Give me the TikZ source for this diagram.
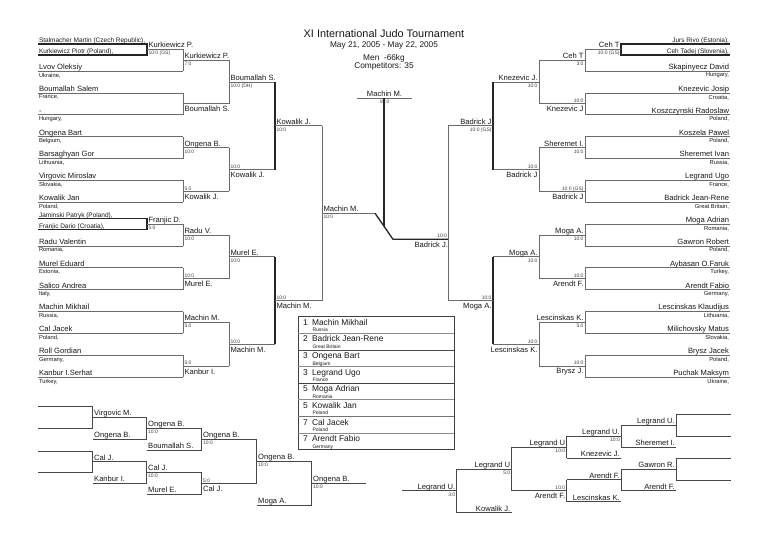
\documentclass[tikz,border=0pt]{standalone}
\usepackage{fontspec}
\setmainfont{Liberation Sans}
\newcommand{\LEnt}[3]{%
  \draw[jln] (38,#1) -- (183,#1);
  \node[jnm,anchor=base west] at (39,#1-1.6) {#2};
  \node[jct,anchor=north west] at (39,#1+1.8) {#3};}
\newcommand{\REnt}[3]{%
  \draw[jln] (585,#1) -- (730,#1);
  \node[jnm,anchor=base east] at (729,#1-1.6) {#2};
  \node[jct,anchor=north east] at (729,#1+1.8) {#3};}
\newcommand{\LWinT}[5]{%
  \draw[jln] (#1,#3) -- (#2,#3);
  \node[jnm,anchor=base west] at (#1+1.5,#3-1.6) {#4};
  \node[jsc,anchor=north west] at (#1+1.5,#3+2) {#5};}
\newcommand{\LWinB}[5]{%
  \draw[jln] (#1,#3) -- (#2,#3);
  \node[jsc,anchor=base west] at (#1+1.5,#3-1.2) {#5};
  \node[jnm,anchor=north west] at (#1+1.5,#3+2.5) {#4};}
\newcommand{\RWinT}[5]{%
  \draw[jln] (#1,#3) -- (#2,#3);
  \node[jnm,anchor=base east] at (#2-1.5,#3-1.6) {#4};
  \node[jsc,anchor=north east] at (#2-1.5,#3+2) {#5};}
\newcommand{\RWinB}[5]{%
  \draw[jln] (#1,#3) -- (#2,#3);
  \node[jsc,anchor=base east] at (#2-1.5,#3-1.2) {#5};
  \node[jnm,anchor=north east] at (#2-1.5,#3+2.5) {#4};}
\newcommand{\VLn}[4][jln]{\draw[#1] (#2,#3) -- (#2,#4);}
\newcommand{\RpL}[4]{\draw[jrp] (#1,#3) -- (#2,#3);
  \node[jnm,anchor=base west] at (#1+1.5,#3-1.6) {#4};}
\newcommand{\RpR}[4]{\draw[jrp] (#1,#3) -- (#2,#3);
  \node[jnm,anchor=base east] at (#2-1.5,#3-1.6) {#4};}
\newcommand{\TRow}[4]{%
  \node[jtx,font=\fontsize{8.4}{10}\selectfont,anchor=base west] at (303,#1+8.6) {#2};
  \node[jtx,font=\fontsize{8.4}{10}\selectfont,anchor=base west] at (312,#1+8.6) {#3};
  \node[jtx,font=\fontsize{5}{6}\selectfont,anchor=base west] at (312.5,#1+15) {#4};}
\begin{document}
\begin{tikzpicture}[x=1pt,y=-1pt,
  jln/.style={draw=black!58,line width=0.9pt},
  jdk/.style={draw=black!85,line width=1.3pt},
  jrp/.style={draw=black!72,line width=1pt},
  jtx/.style={inner sep=0pt,outer sep=0pt,text=black!90},
  jnm/.style={jtx,font=\fontsize{7.6}{9}\selectfont},
  jpr/.style={jtx,font=\fontsize{6.5}{8}\selectfont},
  jct/.style={jtx,font=\fontsize{5.8}{7}\selectfont},
  jsc/.style={jtx,font=\fontsize{5}{6}\selectfont,text=black!75}]
\useasboundingbox (0,0) rectangle (768,543);
\fill[white] (0,0) rectangle (768,543);

% ---------- title ----------
\node[jtx,font=\fontsize{10.9}{12}\selectfont,anchor=base] (title) at (384,37.7) {XI International Judo Tournament};
\node[jtx,font=\fontsize{8.3}{10}\selectfont,anchor=base] (date) at (384,47.7) {May 21, 2005 - May 22, 2005};
\node[jtx,font=\fontsize{8.3}{10}\selectfont,anchor=base] (cat) at (384,60) {Men~~-66kg};
\node[jtx,font=\fontsize{8.3}{10}\selectfont,anchor=base] (comp) at (384,68.3) {Competitors: 35};

% ---------- left half ----------
\draw[jdk] (38,44) -- (147,44) -- (147,55) -- (38,55);
\node[jpr,anchor=base west] at (39,42.6) {Stalmacher Martin (Czech Republic),};
\node[jpr,anchor=base west] at (39,53.6) {Kurkiewicz Piotr (Poland),};
\LWinT{147}{183}{49.3}{Kurkiewicz P.}{10:0 (GS)}
\LEnt{71.15}{Lvov Oleksiy}{Ukraine,}
\LEnt{93}{Boumallah Salem}{France,}
\LEnt{114.85}{-}{Hungary,}
\LEnt{136.7}{Ongena Bart}{Belgium,}
\LEnt{158.55}{Barsaghyan Gor}{Lithuania,}
\LEnt{180.4}{Virgovic Miroslav}{Slovakia,}
\LEnt{202.25}{Kowalik Jan}{Poland,}
\draw[jdk] (38,218.6) -- (147,218.6) -- (147,229.6) -- (38,229.6);
\node[jpr,anchor=base west] at (39,217.2) {Jaminski Patryk (Poland),};
\node[jpr,anchor=base west] at (39,228.2) {Franjic Dario (Croatia),};
\LWinT{147}{183}{224.1}{Franjic D.}{5:0}
\LEnt{245.95}{Radu Valentin}{Romania,}
\LEnt{267.8}{Murel Eduard}{Estonia,}
\LEnt{289.65}{Salico Andrea}{Italy,}
\LEnt{311.5}{Machin Mikhail}{Russia,}
\LEnt{333.35}{Cal Jacek}{Poland,}
\LEnt{355.2}{Roll Gordian}{Germany,}
\LEnt{377.05}{Kanbur I.Serhat}{Turkey,}

\VLn{183}{49.3}{71.15}\VLn{183}{93}{114.85}\VLn{183}{136.7}{158.55}\VLn{183}{180.4}{202.25}
\VLn{183}{224.1}{245.95}\VLn{183}{267.8}{289.65}\VLn{183}{311.5}{333.35}\VLn{183}{355.2}{377.05}
\LWinT{183}{229}{60.2}{Kurkiewicz P.}{7:0}
\LWinB{183}{229}{103.9}{Boumallah S.}{}
\LWinT{183}{229}{147.6}{Ongena B.}{10:0}
\LWinB{183}{229}{191.3}{Kowalik J.}{5:0}
\LWinT{183}{229}{235.0}{Radu V.}{10:0}
\LWinB{183}{229}{278.7}{Murel E.}{10:0}
\LWinT{183}{229}{322.4}{Machin M.}{5:0}
\LWinB{183}{229}{366.1}{Kanbur I.}{5:0}
\VLn{229}{60.2}{103.9}\VLn{229}{147.6}{191.3}\VLn{229}{235.0}{278.7}\VLn{229}{322.4}{366.1}
\LWinT{229}{275}{82.1}{Boumallah S.}{10:0 (DH)}
\LWinB{229}{275}{169.5}{Kowalik J.}{10:0}
\LWinT{229}{275}{256.9}{Murel E.}{10:0}
\LWinB{229}{275}{344.3}{Machin M.}{10:0}
\VLn[jdk]{275}{82.1}{169.5}\VLn[jdk]{275}{256.9}{344.3}
\LWinT{275}{322}{125.8}{Kowalik J.}{10:0}
\LWinB{275}{322}{300.6}{Machin M.}{10:0}
\VLn{322}{125.8}{300.6}
\LWinT{322}{375}{213.2}{Machin M.}{10:0}

% ---------- right half ----------
\draw[jdk] (730,44) -- (621,44) -- (621,55) -- (730,55);
\node[jpr,anchor=base east] at (729,42.6) {Jurs Rivo (Estonia),};
\node[jpr,anchor=base east] at (729,53.6) {Ceh Tadej (Slovenia),};
\RWinT{585}{621}{49.3}{Ceh T}{10:0 (GS)}
\REnt{71.15}{Skapinyecz David}{Hungary,}
\REnt{93}{Knezevic Josip}{Croatia,}
\REnt{114.85}{Koszczynski Radoslaw}{Poland,}
\REnt{136.7}{Koszela Pawel}{Poland,}
\REnt{158.55}{Sheremet Ivan}{Russia,}
\REnt{180.4}{Legrand Ugo}{France,}
\REnt{202.25}{Badrick Jean-Rene}{Great Britain,}
\REnt{224.1}{Moga Adrian}{Romania,}
\REnt{245.95}{Gawron Robert}{Poland,}
\REnt{267.8}{Aybasan O.Faruk}{Turkey,}
\REnt{289.65}{Arendt Fabio}{Germany,}
\REnt{311.5}{Lescinskas Klaudijus}{Lithuania,}
\REnt{333.35}{Milichovsky Matus}{Slovakia,}
\REnt{355.2}{Brysz Jacek}{Poland,}
\REnt{377.05}{Puchak Maksym}{Ukraine,}
\VLn{585}{49.3}{71.15}\VLn{585}{93}{114.85}\VLn{585}{136.7}{158.55}\VLn{585}{180.4}{202.25}
\VLn{585}{224.1}{245.95}\VLn{585}{267.8}{289.65}\VLn{585}{311.5}{333.35}\VLn{585}{355.2}{377.05}
\RWinT{539}{585}{60.2}{Ceh T}{3:0}
\RWinB{539}{585}{103.9}{Knezevic J}{10:0}
\RWinT{539}{585}{147.6}{Sheremet I.}{10:0}
\RWinB{539}{585}{191.3}{Badrick J}{10:0 (GS)}
\RWinT{539}{585}{235.0}{Moga A.}{10:0}
\RWinB{539}{585}{278.7}{Arendt F.}{10:0}
\RWinT{539}{585}{322.4}{Lescinskas K.}{5:0}
\RWinB{539}{585}{366.1}{Brysz J.}{10:0}
\VLn{539}{60.2}{103.9}\VLn{539}{147.6}{191.3}\VLn{539}{235.0}{278.7}\VLn{539}{322.4}{366.1}
\RWinT{493}{539}{82.1}{Knezevic J.}{10:0}
\RWinB{493}{539}{169.5}{Badrick J}{10:0}
\RWinT{493}{539}{256.9}{Moga A.}{10:0}
\RWinB{493}{539}{344.3}{Lescinskas K.}{10:0}
\VLn[jdk]{493}{82.1}{169.5}\VLn[jdk]{493}{256.9}{344.3}
\RWinT{448}{493}{125.8}{Badrick J}{10:0 (GS)}
\RWinB{448}{493}{300.6}{Moga A.}{10:0}
\VLn{448}{125.8}{300.6}

% ---------- final ----------
\draw[jdk] (375,213.2) -- (393,239.3) -- (448,239.3);
\node[jsc,anchor=base east] at (447,237.9) {10:0};
\node[jnm,anchor=north east] at (448,241.8) {Badrick J.};
\draw[jln] (357,98) -- (412,98);
\node[jnm,anchor=base] (champ) at (384.5,96.4) {Machin M.};
\node[jsc,anchor=north] at (384.5,100.2) {10:0};
\draw[jdk] (384,98) -- (384,226.25);

% ---------- results table ----------
\draw[black!75,line width=1pt] (298,316.7) rectangle (454,449.9);
\foreach \yy/\cc in {333.35/black!45,350/black!70,366.65/black!45,383.3/black!75,399.95/black!45,416.6/black!55,433.25/black!45}
  \draw[\cc,line width=1pt] (298,\yy) -- (454,\yy);
\TRow{316.7}{1}{Machin Mikhail}{Russia}
\TRow{333.35}{2}{Badrick Jean-Rene}{Great Britain}
\TRow{350}{3}{Ongena Bart}{Belgium}
\TRow{366.65}{3}{Legrand Ugo}{France}
\TRow{383.3}{5}{Moga Adrian}{Romania}
\TRow{399.95}{5}{Kowalik Jan}{Poland}
\TRow{416.6}{7}{Cal Jacek}{Poland}
\TRow{433.25}{7}{Arendt Fabio}{Germany}

% ---------- repechage left ----------
\draw[jrp] (38,406.7) -- (92.7,406.7) -- (92.7,428.3) -- (38,428.3);
\RpL{92.7}{146.7}{417.5}{Virgovic M.}
\RpL{92.7}{146.7}{439.3}{Ongena B.}
\VLn[jrp]{146.7}{417.5}{439.3}
\RpL{146.7}{201.7}{428.4}{Ongena B.}
\node[jsc,anchor=north west] at (148.2,430.4) {10:0};
\RpL{146.7}{201.7}{450}{Boumallah S.}
\VLn[jrp]{201.7}{428.4}{450}
\RpL{201.7}{256.7}{439.2}{Ongena B.}
\node[jsc,anchor=north west] at (203.2,441.2) {10:0};
\draw[jrp] (38,451) -- (92.7,451) -- (92.7,472.3) -- (38,472.3);
\RpL{92.7}{146.7}{461.7}{Cal J.}
\RpL{92.7}{146.7}{483}{Kanbur I.}
\VLn[jrp]{146.7}{461.7}{483}
\RpL{146.7}{201.7}{472.3}{Cal J.}
\node[jsc,anchor=north west] at (148.2,474.3) {10:0};
\RpL{146.7}{201.7}{494.3}{Murel E.}
\VLn[jrp]{201.7}{472.3}{494.3}
\draw[jrp] (201.7,483.3) -- (256.7,483.3);
\node[jsc,anchor=base west] at (203.2,482.1) {5:0};
\node[jnm,anchor=north west] at (203.2,485.8) {Cal J.};
\VLn[jrp]{256.7}{439.2}{483.3}
\RpL{256.7}{311.7}{461.3}{Ongena B.}
\node[jsc,anchor=north west] at (258.2,463.3) {10:0};
\RpL{256.7}{311.7}{505.3}{Moga A.}
\VLn[jrp]{311.7}{461.3}{505.3}
\RpL{311.7}{366}{483.3}{Ongena B.}
\node[jsc,anchor=north west] at (313.2,485.3) {10:0};

% ---------- repechage right ----------
\draw[jrp] (730.7,414.3) -- (676.3,414.3) -- (676.3,436) -- (730.7,436);
\RpR{621.3}{676.3}{425.2}{Legrand U.}
\RpR{621.3}{676.3}{447}{Sheremet I.}
\VLn[jrp]{621.3}{425.2}{447}
\RpR{566.7}{621.3}{436.1}{Legrand U.}
\node[jsc,anchor=north east] at (619.8,438.1) {10:0};
\RpR{566.7}{621.3}{458.3}{Knezevic J.}
\VLn[jrp]{566.7}{436.1}{458.3}
\RpR{511.7}{566.7}{447.2}{Legrand U}
\node[jsc,anchor=north east] at (565.2,449.2) {10:0};
\draw[jrp] (730.7,458.3) -- (676.3,458.3) -- (676.3,480) -- (730.7,480);
\RpR{621.3}{676.3}{469.1}{Gawron R.}
\RpR{621.3}{676.3}{490.7}{Arendt F.}
\VLn[jrp]{621.3}{469.1}{490.7}
\RpR{566.7}{621.3}{479.9}{Arendt F.}
\RpR{566.7}{621.3}{501.7}{Lescinskas K.}
\VLn[jrp]{566.7}{479.9}{501.7}
\draw[jrp] (511.7,490.8) -- (566.7,490.8);
\node[jsc,anchor=base east] at (565.2,489.6) {10:0};
\node[jnm,anchor=north east] at (565.2,493.3) {Arendt F.};
\VLn[jrp]{511.7}{447.2}{490.8}
\RpR{456.7}{511.7}{469}{Legrand U}
\node[jsc,anchor=north east] at (510.2,471) {5:0};
\RpR{456.7}{511.7}{512.7}{Kowalik J.}
\VLn[jrp]{456.7}{469}{512.7}
\RpR{402.3}{456.7}{490.9}{Legrand U.}
\node[jsc,anchor=north east] at (455.2,492.9) {3:0};
\end{tikzpicture}
\end{document}
